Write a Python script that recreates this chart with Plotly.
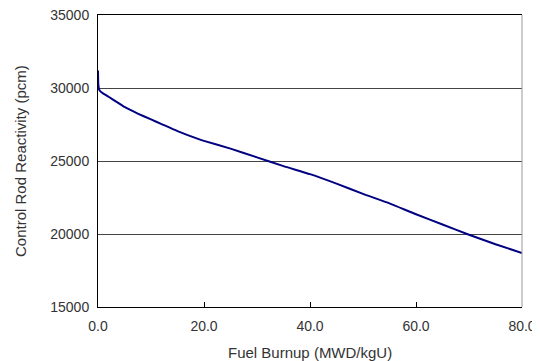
import plotly.graph_objects as go

burnup = [0.0, 0.05, 0.2, 0.5, 1.0, 2.0, 3.5, 5.0, 7.5, 10.0, 12.0, 15.0, 19.0, 20.0, 25.0,
          30.0, 35.0, 40.0, 45.0, 50.0, 55.0, 60.0, 65.0, 70.0, 75.0, 80.0]
reactivity = [31200, 30300, 29900, 29750, 29620, 29400, 29050, 28700, 28250, 27850, 27530,
              27050, 26500, 26380, 25850, 25250, 24650, 24100, 23450, 22750, 22100, 21350,
              20650, 19950, 19300, 18700]

x_ticks = [0, 20, 40, 60, 80]
x_tick_labels = ["0.0", "20.0", "40.0", "60.0", "80.0"]
y_ticks = [15000, 20000, 25000, 30000, 35000]
y_tick_labels = ["15000", "20000", "25000", "30000", "35000"]

fig = go.Figure()
fig.add_trace(go.Scatter(x=burnup, y=reactivity, mode="lines",
                         line=dict(color="#000080", width=2, shape="spline", smoothing=0.4),
                         showlegend=False))

font = dict(family="Liberation Sans, Arial, sans-serif", size=14, color="#333333")
title_font = dict(family="Liberation Sans, Arial, sans-serif", size=15, color="#333333")

fig.update_layout(
    width=532, height=353,
    margin=dict(l=90, r=18, t=7, b=54, autoexpand=False),
    paper_bgcolor="white", plot_bgcolor="white",
    font=font,
    xaxis=dict(range=[0, 80], tickvals=x_ticks, ticktext=x_tick_labels, automargin=False,
               showgrid=False, zeroline=False, showline=True, linecolor="black", linewidth=1,
               mirror=True, ticks="inside", ticklen=5, tickcolor="black",
               ticklabelstandoff=6, ticklabeloverflow="allow", tickfont=font),
    yaxis=dict(range=[15000, 35000], tickvals=y_ticks, ticktext=y_tick_labels, automargin=False,
               showgrid=True, gridcolor="#444444",
               gridwidth=1, zeroline=False, showline=True, linecolor="black", linewidth=1,
               ticks="", ticklabelstandoff=5, ticklabeloverflow="allow", tickfont=font),
    annotations=[
        dict(text="Fuel Burnup (MWD/kgU)", xref="paper", yref="paper", x=0.5, y=0,
             xanchor="center", yanchor="middle", yshift=-45, showarrow=False, font=title_font),
        dict(text="Control Rod Reactivity (pcm)", xref="paper", yref="paper", x=0, y=0.5,
             xanchor="center", yanchor="middle", xshift=-78, textangle=-90, showarrow=False,
             font=title_font),
    ],
)
fig.add_shape(type="line", xref="paper", yref="paper", x0=1, x1=1, y0=0, y1=1,
              line=dict(color="#999999", width=1))

fig.write_html("out.html")
